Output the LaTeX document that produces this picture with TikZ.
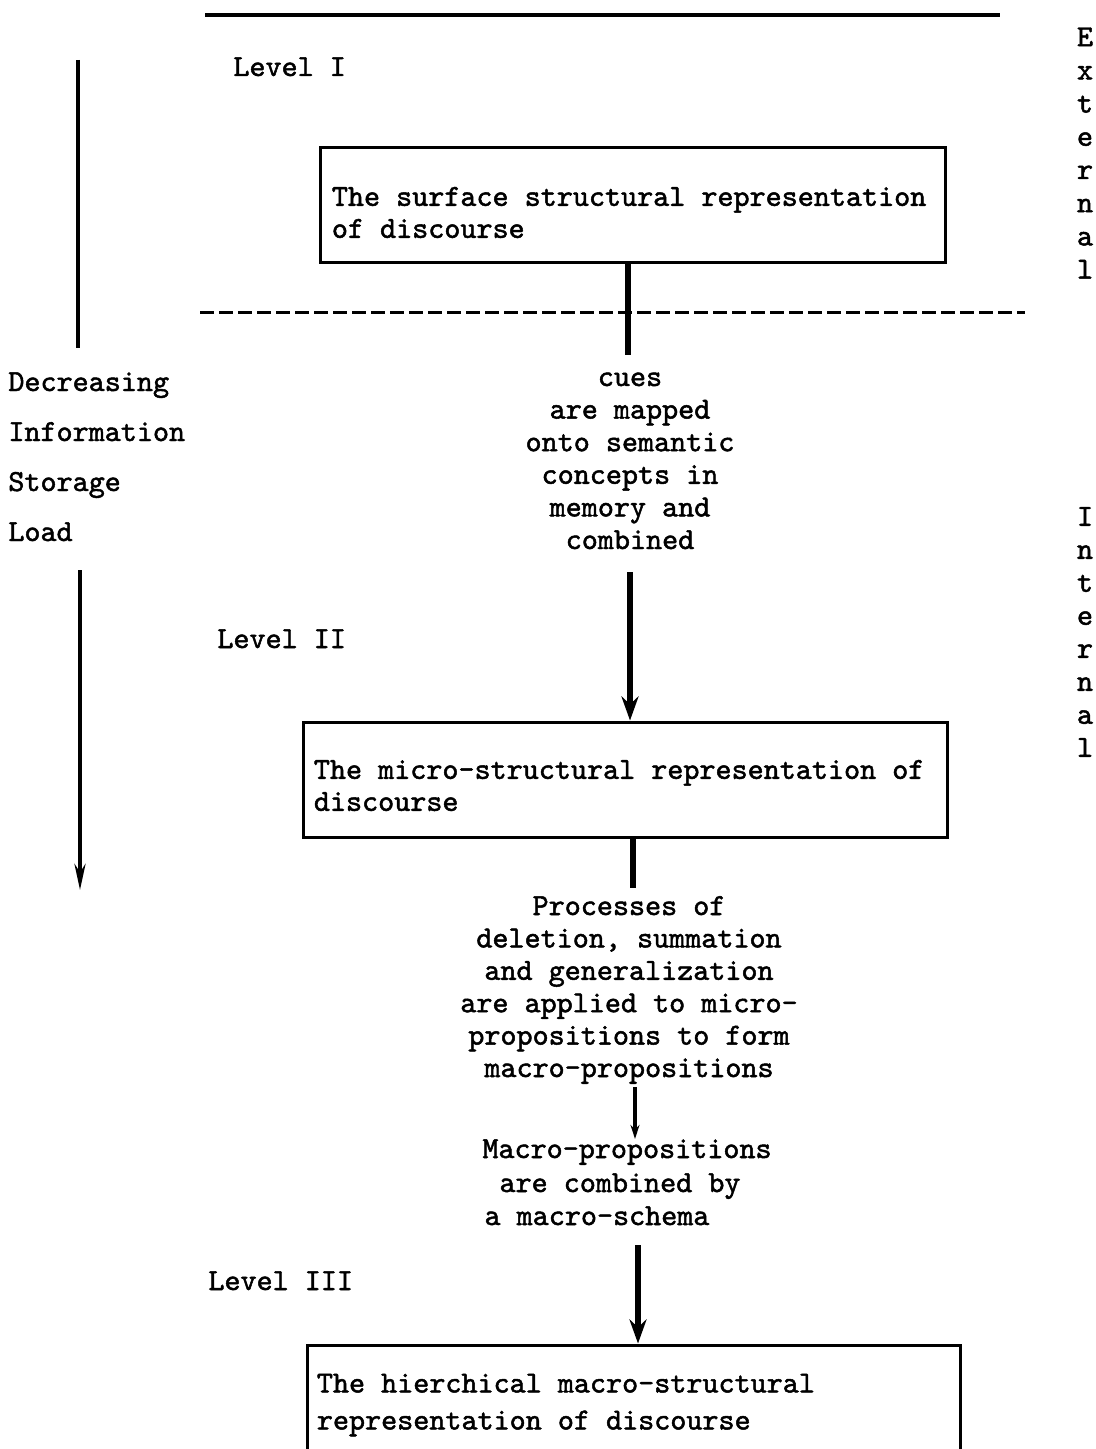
\documentclass[tikz,border=0pt]{standalone}
\usepackage{fontspec}
\newfontfamily\tw[FakeBold=1.6]{lmmono10-regular.otf}
\usetikzlibrary{arrows.meta}
\begin{document}
\begin{tikzpicture}[x=0.5pt,y=-0.5pt,
  every node/.style={font=\tw\fontsize{15.3}{16}\selectfont, inner sep=0pt},
  lbl/.style={anchor=base west},
  ctr/.style={anchor=base},
  box/.style={draw, line width=1.5pt},
  boxtext/.style={align=left, anchor=west},
  flow/.style={line width=3pt},
  head/.style={-{Stealth[length=12pt,width=8.5pt]}},
]
\useasboundingbox (0,0) rectangle (1096,1449);
\clip (0,0) rectangle (1096,1449);

% horizontal rules
\draw[line width=2pt] (205,15) -- (1000,15);
\draw[line width=1.5pt, dash pattern=on 7pt off 2.5pt] (200,313) -- (1025,313);

% level labels
\node[lbl] (lv1) at (233,76) {Level I};
\node[lbl] (lv2) at (217,648) {Level II};
\node[lbl] (lv3) at (208,1290) {Level III};

% left-hand caption
\foreach \w [count=\i] in {Decreasing,Information,Storage,Load}
  \node[lbl] (load\i) at (8,341+50*\i) {\w};

% vertical words on the right
\foreach \c [count=\i] in {E,x,t,e,r,n,a,l}
  \node[ctr] (ext\i) at (1085,13+33.2*\i) {\c};
\foreach \c [count=\i] in {I,n,t,e,r,n,a,l}
  \node[ctr] (int\i) at (1085,492.8+33*\i) {\c};

% representation boxes
\node[box, minimum width=312.5pt, minimum height=57.5pt] (b1) at (632.5,205.5) {};
\node[boxtext, xshift=6.5pt, yshift=-3.5pt] (t1) at (b1.west)
  {The surface structural representation\\of discourse};
\node[box, minimum width=322pt, minimum height=57.5pt] (b2) at (625,779.5) {};
\node[boxtext, xshift=6pt, yshift=-3pt] (t2) at (b2.west)
  {The micro-structural representation of\\discourse};
\node[box, minimum width=326.5pt, minimum height=60pt] (b3) at (633.5,1405) {};
\node[boxtext, xshift=5.5pt, font=\tw\fontsize{15.3}{18.5}\selectfont] (t3) at (b3.west)
  {The hierchical macro-structural\\representation of discourse};

% process descriptions
\foreach \t [count=\i] in {cues,are mapped,onto semantic,concepts in,memory and,combined}
  \node[ctr] (cue\i) at (630,353.4+32.6*\i) {\t};
\foreach \t [count=\i] in {Processes of,{deletion, summation},and generalization,are applied to micro-,propositions to form,macro-propositions}
  \node[ctr] (proc\i) at (629,882.6+32.4*\i) {\t};
\node[ctr] (mac1) at (627,1158) {Macro-propositions};
\node[ctr] (mac2) at (620,1192) {are combined by};
\node[ctr] (mac3) at (597,1225) {a macro-schema};

% connectors
\coordinate (c1) at (628,355);
\draw[flow] (b1.south -| c1) -- (c1);
\coordinate (c2) at (630,572);
\draw[flow,head] (c2) -- (c2 |- b2.north);
\coordinate (c3) at (633,888);
\draw[flow] (c3 |- b2.south) -- (c3);
\coordinate (c4) at (635,1087);
\draw[line width=2pt, -{Stealth[length=7pt,width=4.5pt]}] (c4) -- (c4 |- mac1.north);
\coordinate (c5) at (638,1245);
\draw[flow,head] (c5) -- (c5 |- b3.north);

% information load arrow
\coordinate (l1) at (78,60);
\coordinate (l2) at (78,348);
\draw[line width=2pt] (l1) -- (l2);
\coordinate (l3) at (80,570);
\coordinate (l4) at (80,890);
\draw[line width=2pt, -{Stealth[length=13pt,width=5.5pt]}] (l3) -- (l4);
\end{tikzpicture}
\end{document}
